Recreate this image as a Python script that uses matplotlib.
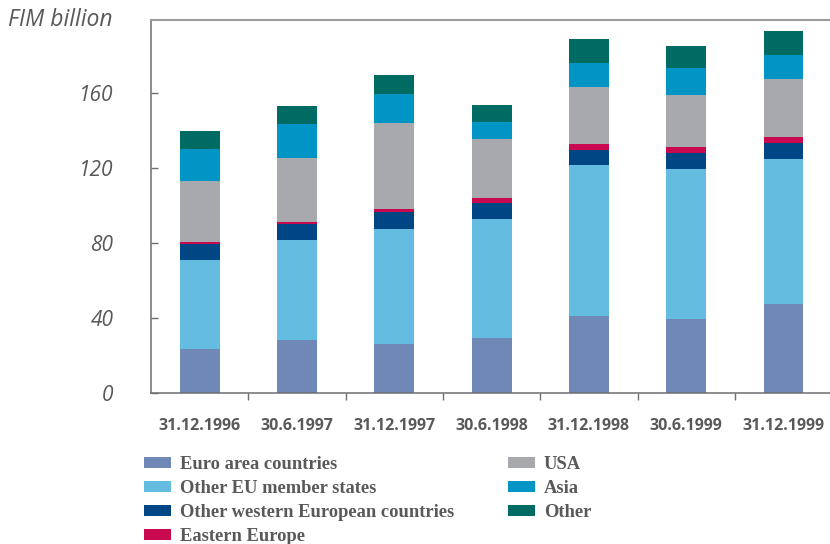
import matplotlib.pyplot as plt
import numpy as np

# ==== data (FIM billion) ====
dates = ["31.12.1996", "30.6.1997", "31.12.1997", "30.6.1998",
         "31.12.1998", "30.6.1999", "31.12.1999"]
euro_area = [23.5, 28.3, 26.1, 29.3, 41.1, 39.5, 47.5]
other_eu = [47.4, 53.3, 61.4, 63.5, 80.5, 80.0, 77.3]
other_western = [8.7, 8.5, 9.0, 8.5, 8.0, 8.5, 8.5]
eastern_europe = [0.9, 1.1, 1.6, 2.7, 3.2, 3.2, 3.2]
usa = [32.5, 34.1, 45.9, 31.5, 30.4, 27.7, 31.0]
asia = [17.1, 18.2, 15.5, 9.0, 12.8, 14.4, 12.8]
other = [9.6, 9.6, 10.1, 9.1, 12.8, 11.8, 12.8]

series = [
    ("Euro area countries", euro_area, "#7088b6"),
    ("Other EU member states", other_eu, "#64bde0"),
    ("Other western European countries", other_western, "#004685"),
    ("Eastern Europe", eastern_europe, "#c8094f"),
    ("USA", usa, "#a8a9ad"),
    ("Asia", asia, "#0095c4"),
    ("Other", other, "#006b63"),
]

text_col = "#58595b"
spine_col = "#6d6e71"

fig = plt.figure(figsize=(8.3, 5.44), dpi=100)
ax = fig.add_axes([151 / 830, 151 / 544, 679 / 830, 373 / 544])

x = np.arange(len(dates))
bottom = np.zeros(len(dates))
for label, vals, col in series:
    ax.bar(x, vals, width=0.41, bottom=bottom, color=col, label=label, linewidth=0)
    bottom += np.array(vals)

ax.set_xlim(-0.5, 6.478)
ax.set_ylim(0, 199)

# y axis
ax.set_yticks([0, 40, 80, 120, 160])
ax.tick_params(axis="y", direction="in", length=5, width=1, color=spine_col,
               pad=27, labelsize=15, labelcolor=text_col)
for t in ax.get_yticklabels():
    t.set_fontstyle("italic")
    t.set_fontfamily("Open Sans")

# x axis: labels at bars, ticks between bars
ax.set_xticks(x)
ax.set_xticklabels(dates, fontfamily="Open Sans", fontweight="bold")
ax.set_xticks(x[:-1] + 0.5, minor=True)
ax.tick_params(axis="x", which="major", length=0, pad=18, labelsize=11.5,
               labelcolor=text_col)
ax.tick_params(axis="x", which="minor", direction="out", length=5, width=1,
               color=spine_col)

ax.spines["right"].set_visible(False)
for s in ["left", "bottom"]:
    ax.spines[s].set_color(spine_col)
    ax.spines[s].set_linewidth(1.1)
ax.spines["top"].set_color("#9a9a9a")
ax.spines["top"].set_linewidth(1.5)

fig.text(8 / 830, 1 - 20 / 544, "FIM billion", fontsize=16.5, fontstyle="italic",
         fontfamily="Open Sans", color=text_col, va="center", ha="left")

leg = fig.legend(loc="upper left", bbox_to_anchor=(144 / 830, 1 - 456 / 544),
                 ncol=2, frameon=False, borderpad=0, borderaxespad=0,
                 handlelength=1.45, handleheight=0.5, handletextpad=0.5,
                 columnspacing=2.9, labelspacing=0.38,
                 prop={"family": "Liberation Serif", "weight": "bold", "size": 13.3})
for t in leg.get_texts():
    t.set_color(text_col)

fig.savefig("out.png", dpi=100)
